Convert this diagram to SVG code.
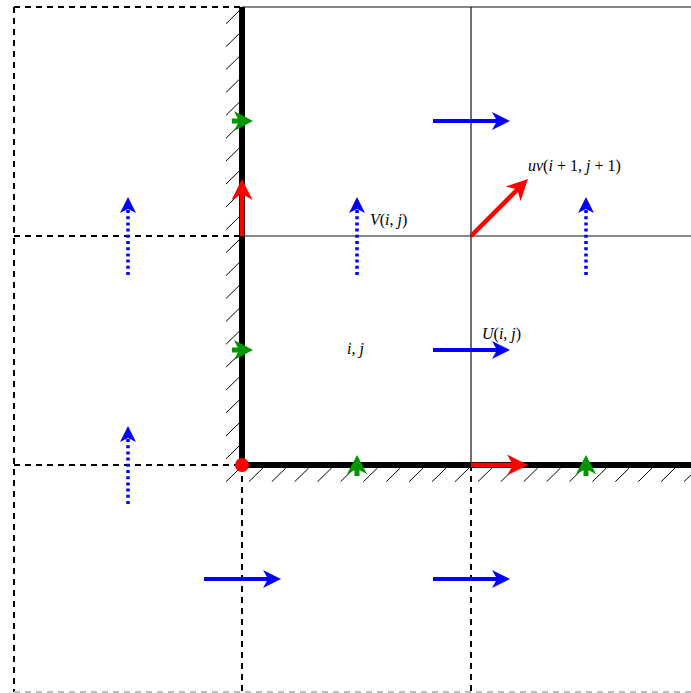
<svg xmlns="http://www.w3.org/2000/svg" xmlns:xlink="http://www.w3.org/1999/xlink" width="691" height="693" viewBox="0 0 691 693">
<style>
.thin{stroke:#111;stroke-width:1.2;fill:none}
.dash{stroke:#000;stroke-width:2;stroke-dasharray:6,5;fill:none}
.wall{stroke:#000;stroke-width:6;fill:none;stroke-linejoin:miter}
.hatch{stroke:#000;stroke-width:1;fill:none}
.bl{stroke:#0000ff;stroke-width:4;fill:none}
.bd{stroke:#0000ff;stroke-width:3.5;stroke-dasharray:3,3.2;fill:none}
.rd{stroke:#ff0000;stroke-width:4.5;fill:none}
.gr{stroke:#009600;stroke-width:5;fill:none}
.lbl{font-family:"Liberation Serif",serif;font-size:16px;fill:#000}
.it{font-style:italic}
</style>
<defs>
<path id="bh" d="M0,0 L-18,-9 L-13,0 L-18,9 Z"/>
<path id="dh" d="M0,0 L-16,-8 L-12,0 L-16,8 Z"/>
<path id="rh" d="M0,0 L-21,-10.5 L-15,0 L-21,10.5 Z"/>
<path id="gh" d="M0,0 L-19,-10 L-14,0 L-19,10 Z"/>
</defs>
<rect width="691" height="693" fill="#fff"/>
<g id="grid">
<path class="dash" d="M14,7 H242 M14,7 V692 M14,236 H242 M14,465 H242 M242,465 V692 M471,465 V692"/>
<path d="M14,692 H691" stroke="#bbb" stroke-width="2" stroke-dasharray="6,5" fill="none"/>
<path class="thin" d="M242,7 H691 M242,236 H691 M471,7 V465"/>
</g>
<g id="wall">
<path class="wall" d="M242,7 V465 H691"/>
<path class="hatch" d="M226,481.7 l14,-13.7 M226,458.8 l14,-13.7 M226,435.9 l14,-13.7 M226,413 l14,-13.7 M226,390.1 l14,-13.7 M226,367.2 l14,-13.7 M226,344.3 l14,-13.7 M226,321.4 l14,-13.7 M226,298.5 l14,-13.7 M226,275.6 l14,-13.7 M226,252.7 l14,-13.7 M226,229.8 l14,-13.7 M226,206.9 l14,-13.7 M226,184 l14,-13.7 M226,161.1 l14,-13.7 M226,138.2 l14,-13.7 M226,115.3 l14,-13.7 M226,92.4 l14,-13.7 M226,69.5 l14,-13.7 M226,46.6 l14,-13.7 M226,23.7 l14,-13.7"/>
<path class="hatch" d="M248.9,481.7 l14,-13.7 M271.8,481.7 l14,-13.7 M294.7,481.7 l14,-13.7 M317.6,481.7 l14,-13.7 M340.5,481.7 l14,-13.7 M363.4,481.7 l14,-13.7 M386.3,481.7 l14,-13.7 M409.2,481.7 l14,-13.7 M432.1,481.7 l14,-13.7 M455,481.7 l14,-13.7 M477.9,481.7 l14,-13.7 M500.8,481.7 l14,-13.7 M523.7,481.7 l14,-13.7 M546.6,481.7 l14,-13.7 M569.5,481.7 l14,-13.7 M592.4,481.7 l14,-13.7 M615.3,481.7 l14,-13.7 M638.2,481.7 l14,-13.7 M661.1,481.7 l14,-13.7 M684,481.7 l14,-13.7"/>
</g>
<g id="connectors">
<g id="u-arrows">
<path class="bl" d="M433,121 H497 M433,350 H497 M433,579 H497 M204,579 H268"/>
<g fill="#0000ff">
<use xlink:href="#bh" transform="translate(510,121)"/>
<use xlink:href="#bh" transform="translate(510,350)"/>
<use xlink:href="#bh" transform="translate(510,579)"/>
<use xlink:href="#bh" transform="translate(281,579)"/>
</g>
</g>
<g id="v-arrows">
<path class="bd" d="M128,275 V210 M357,275 V210 M586,275 V210 M128,504 V439"/>
<g fill="#0000ff">
<use xlink:href="#dh" transform="translate(128,197) rotate(-90)"/>
<use xlink:href="#dh" transform="translate(357,197) rotate(-90)"/>
<use xlink:href="#dh" transform="translate(586,197) rotate(-90)"/>
<use xlink:href="#dh" transform="translate(128,426) rotate(-90)"/>
</g>
</g>
<g id="red-arrows">
<path class="rd" d="M242,236 V193 M471,236 L518,189 M471,465 H514"/>
<g fill="#ff0000">
<use xlink:href="#rh" transform="translate(242,179) rotate(-90)"/>
<use xlink:href="#rh" transform="translate(528,179) rotate(-45)"/>
<use xlink:href="#rh" transform="translate(528,465)"/>
</g>
</g>
<g id="green-arrows">
<path class="gr" d="M232,121 H240 M232,350 H240 M357,476 V468 M586,476 V468"/>
<g fill="#009600">
<use xlink:href="#gh" transform="translate(253,121)"/>
<use xlink:href="#gh" transform="translate(253,350)"/>
<use xlink:href="#gh" transform="translate(357,455) rotate(-90)"/>
<use xlink:href="#gh" transform="translate(586,455) rotate(-90)"/>
</g>
</g>
</g>
<g id="corner-dot"><circle cx="242" cy="465" r="7" fill="#ff0000"/></g>
<g id="labels">
<text class="lbl" x="370" y="225"><tspan class="it">V</tspan>(<tspan class="it">i</tspan>, <tspan class="it">j</tspan>)</text>
<text class="lbl" x="528" y="171"><tspan class="it">uv</tspan>(<tspan class="it">i</tspan> + 1, <tspan class="it">j</tspan> + 1)</text>
<text class="lbl" x="482" y="339"><tspan class="it">U</tspan>(<tspan class="it">i</tspan>, <tspan class="it">j</tspan>)</text>
<text class="lbl" x="347" y="354"><tspan class="it">i</tspan>, <tspan class="it">j</tspan></text>
</g>
</svg>
